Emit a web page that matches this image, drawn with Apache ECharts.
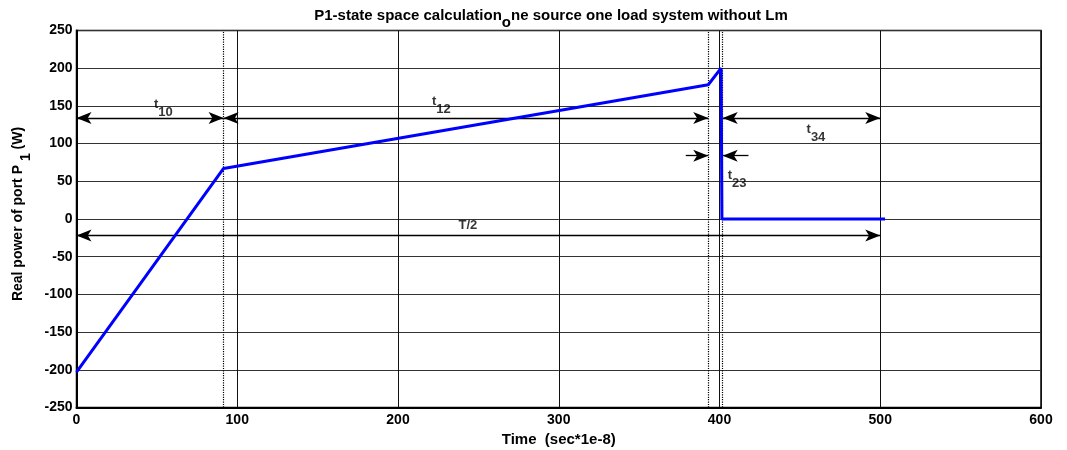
<!DOCTYPE html>
<html>
<head>
<meta charset="utf-8">
<title>P1-state space calculation</title>
<script src="https://cdn.jsdelivr.net/npm/echarts@6/dist/echarts.min.js"></script>
<style>
  html, body { margin: 0; padding: 0; background: #fff; }
  #chart { width: 1067px; height: 450px; }
</style>
</head>
<body>
<div id="chart"></div>
<script>
// Real power of port P1 over one half period
const timeValues  = [0, 91.5, 393, 401, 401.5, 503];
const powerValues = [-203, 67, 178, 200, 0, 0];

// Interval boundaries (dotted verticals)
const boundaryTimes = [91.5, 393, 402];

// Interval arrows: [x0, x1, y, headAtStart, headAtEnd]
const intervalArrows = [
  [0, 91.5, 134, true, true],      // t10
  [91.5, 393, 134, true, true],    // t12
  [402, 500, 134, true, true],     // t34
  [0, 500, -22, true, true],       // T/2
  [379, 393, 84, false, true],     // t23 left
  [418, 402, 84, false, true]      // t23 right
];

// Interval labels: [name, subscript, x, y]
const intervalLabels = [
  ['t', '10', 54, 147],
  ['t', '12', 227, 150],
  ['t', '34', 460, 114],
  ['t', '23', 411, 53],
  ['T/2', '', 243.5, -8]
];

const xTicks = { min: 0, max: 600, step: 100 };
const yTicks = { min: -250, max: 250, step: 50 };

const FONT = '"Liberation Sans", Arial, sans-serif';

const chart = echarts.init(document.getElementById('chart'), null, { renderer: 'canvas' });

const linePoints = timeValues.map((t, i) => [t, powerValues[i]]);

const arrowData = intervalArrows.map(a => [
  { coord: [a[0], a[2]], symbol: a[3] ? 'arrow' : 'none' },
  { coord: [a[1], a[2]], symbol: a[4] ? 'arrow' : 'none' }
]);

const labelPoints = intervalLabels.map(l => ({
  value: [l[2], l[3]],
  label: { formatter: l[1] ? '{b|' + l[0] + '}{s|' + l[1] + '}' : '{b|' + l[0] + '}' }
}));

function subStyles(size, drop) {
  return {
    b: { fontFamily: FONT, fontWeight: 'bold', fontSize: size, color: '#000', verticalAlign: 'top' },
    s: { fontFamily: FONT, fontWeight: 'bold', fontSize: size, color: '#000', padding: [drop, 0, 0, 0], verticalAlign: 'top' }
  };
}

chart.setOption({
  animation: false,
  backgroundColor: '#fff',
  title: {
    text: '{b|P1-state space calculation}{s|o}{b|ne source one load system without Lm}',
    left: 546,
    textAlign: 'center',
    top: 3,
    textStyle: { rich: subStyles(15, 7) }
  },
  grid: {
    left: 76.5, right: 26, top: 30.5, bottom: 42.5,
    outerBoundsMode: 'none',
    containLabel: false,
    show: true, borderColor: '#000', borderWidth: 1.5, backgroundColor: '#fff'
  },
  xAxis: {
    type: 'value',
    min: xTicks.min, max: xTicks.max, interval: xTicks.step,
    name: 'Time  (sec*1e-8)',
    nameLocation: 'middle',
    nameGap: 22,
    nameTextStyle: { fontFamily: FONT, fontWeight: 'bold', fontSize: 15, color: '#000' },
    axisLine: { show: true, onZero: false, lineStyle: { color: '#000', width: 2 } },
    axisTick: { show: false },
    axisLabel: { fontFamily: FONT, fontWeight: 'bold', fontSize: 14, color: '#000', margin: 6 },
    splitLine: { show: true, lineStyle: { color: '#111', width: 1 } }
  },
  yAxis: {
    type: 'value',
    min: yTicks.min, max: yTicks.max, interval: yTicks.step,
    name: '{b|Real power of port P }{s|1}{b| (W)}',
    nameLocation: 'middle',
    nameGap: 40,
    nameRotate: 90,
    nameTextStyle: { rich: subStyles(14, 8), padding: [0, 0, 0, 10] },
    axisLine: { show: true, onZero: false, lineStyle: { color: '#000', width: 2 } },
    axisTick: { show: false },
    axisLabel: { fontFamily: FONT, fontWeight: 'bold', fontSize: 14, color: '#000', margin: 4 },
    splitLine: { show: true, lineStyle: { color: '#333', width: 1 } }
  },
  series: [
    {
      name: 'P1',
      type: 'line',
      data: linePoints,
      showSymbol: false,
      symbol: 'none',
      lineStyle: { color: '#0000ff', width: 3 },
      z: 5,
      markLine: {
        silent: true,
        symbol: 'none',
        label: { show: false },
        lineStyle: { color: '#000', type: 'dotted', width: 1.2 },
        data: boundaryTimes.map(t => ({ xAxis: t }))
      }
    },
    {
      name: 'intervals',
      type: 'line',
      data: [],
      markLine: {
        silent: true,
        symbolSize: [9, 15],
        label: { show: false },
        lineStyle: { color: '#000', type: 'solid', width: 1.3 },
        emphasis: { disabled: true },
        data: arrowData
      },
      z: 6
    },
    {
      name: 'labels',
      type: 'scatter',
      data: labelPoints,
      symbolSize: 0,
      silent: true,
      label: {
        show: true,
        position: 'inside',
        rich: subStyles(13, 8)
      },
      z: 7
    }
  ]
});
</script>
</body>
</html>
